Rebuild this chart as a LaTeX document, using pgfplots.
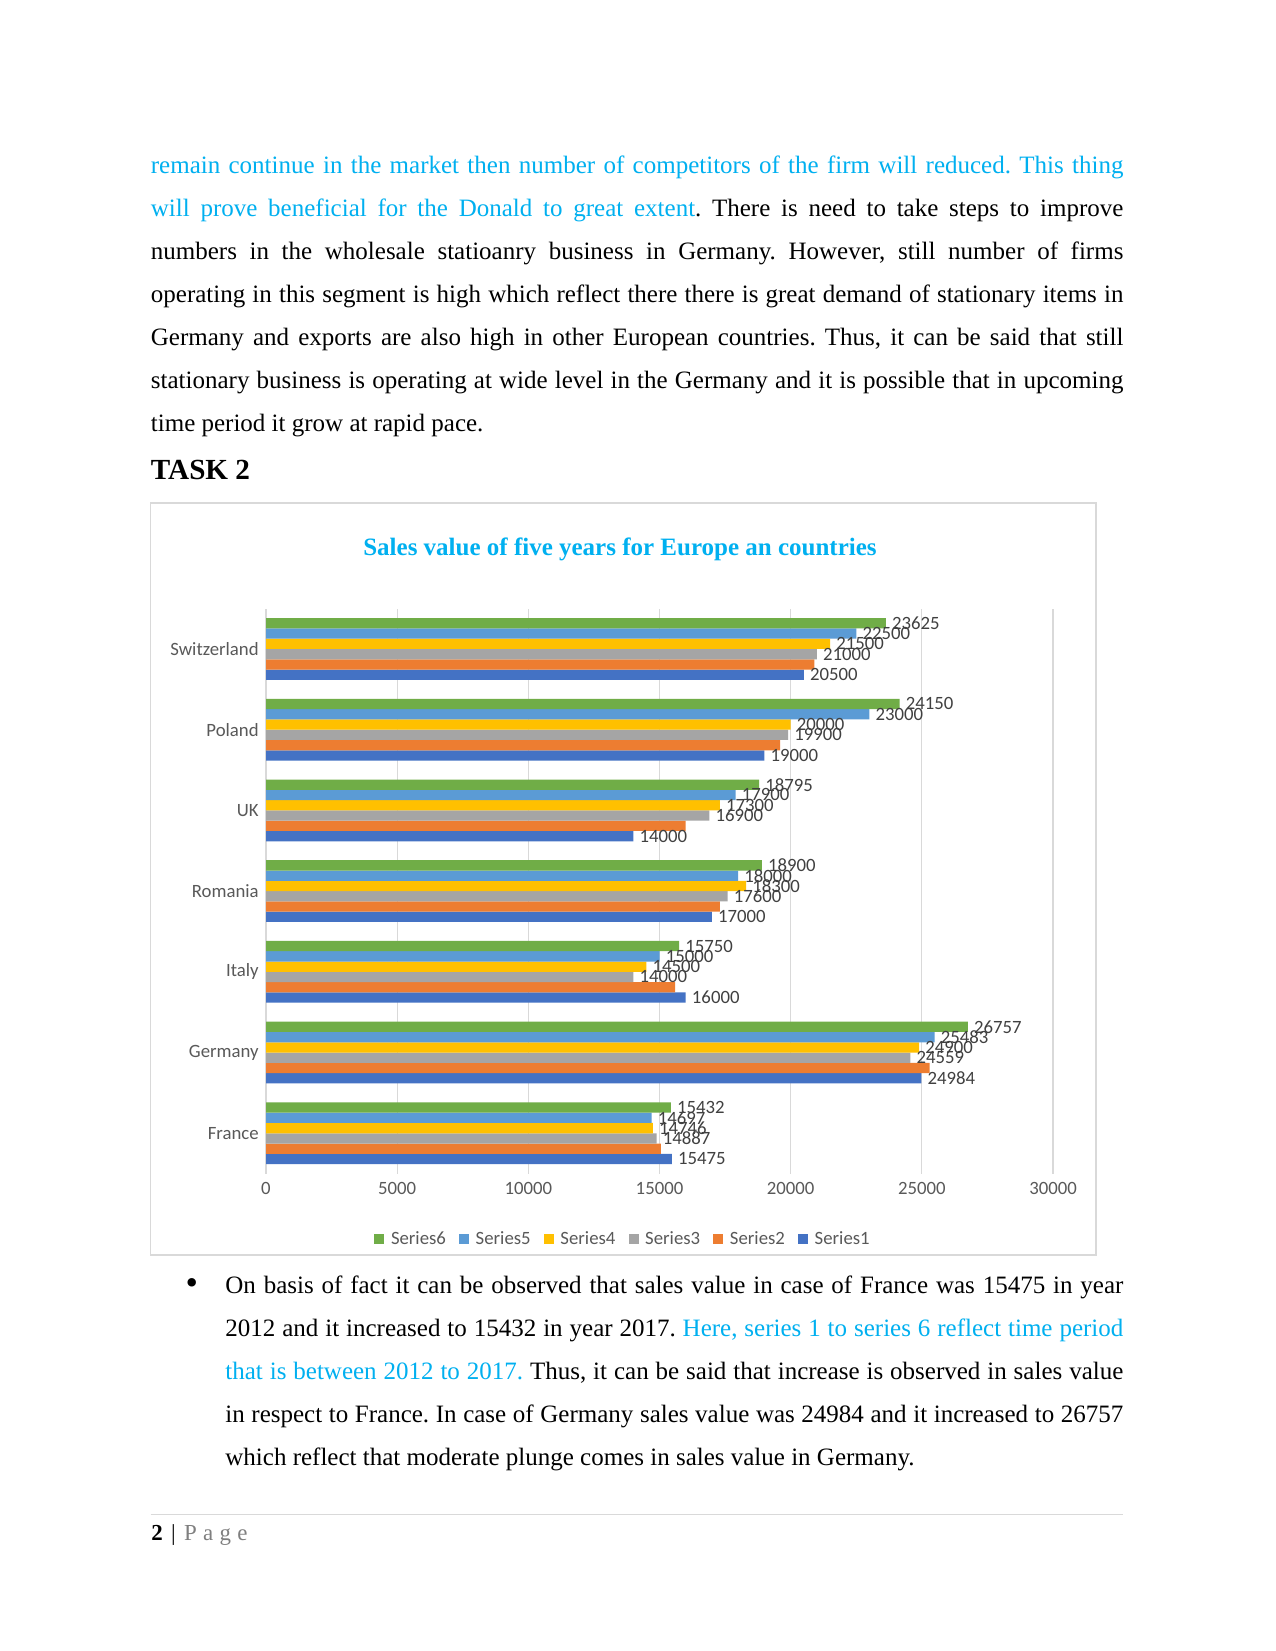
\documentclass[border=0pt]{standalone}
\usepackage{pgfplots}
\pgfplotsset{compat=1.18}
\usepackage{fontspec}
\setmainfont{Liberation Serif}
\newfontfamily\carlito{Carlito}
\definecolor{lb}{HTML}{00B0F0}
\definecolor{cS1}{HTML}{4472C4}
\definecolor{cS2}{HTML}{ED7D31}
\definecolor{cS3}{HTML}{A5A5A5}
\definecolor{cS4}{HTML}{FFC000}
\definecolor{cS5}{HTML}{5B9BD5}
\definecolor{cS6}{HTML}{70AD47}
\definecolor{tickgray}{HTML}{595959}
\definecolor{labgray}{HTML}{404040}
\definecolor{gridgray}{HTML}{D9D9D9}
\definecolor{pagegray}{HTML}{7F7F7F}
\frenchspacing
\newcommand{\bodyf}{\fontsize{12}{14}\selectfont\frenchspacing}
\newcommand{\jl}[1]{\makebox[466.8pt][s]{#1}}
\newcommand{\jb}[1]{\makebox[431pt][s]{#1}}
\begin{document}
\begin{tikzpicture}[x=0.48pt,y=-0.48pt]
\fill[white] (0,0) rectangle (1275,1651);
% body text
\begin{scope}[every node/.style={anchor=base west, inner sep=0pt, font=\bodyf}]
\node at (150.5,173.3) {\jl{\color{lb}remain continue in the market then number of competitors of the firm will reduced. This thing}};
\node at (150.5,216.4) {\jl{{\color{lb}will prove beneficial for the Donald to great extent}. There is need to take steps to improve}};
\node at (150.5,259.5) {\jl{numbers in the wholesale statioanry business in Germany. However, still number of firms}};
\node at (150.5,302.6) {\jl{operating in this segment is high which reflect there there is great demand of stationary items in}};
\node at (150.5,345.7) {\jl{Germany and exports are also high in other European countries. Thus, it can be said that still}};
\node at (150.5,388.8) {\jl{stationary business is operating at wide level in the Germany and it is possible that in upcoming}};
\node at (150.5,431.9) {time period it grow at rapid pace.};
\node[font=\fontsize{14}{16}\selectfont\bfseries] at (150.5,479.3) {TASK 2};
% bullet paragraph
\node[anchor=base, font=\fontsize{17}{17}\selectfont] at (191.7,1294.3) {\textbullet};
\node at (225,1293.3) {\jb{On basis of fact it can be observed that sales value in case of France was 15475 in year}};
\node at (225,1336.4) {\jb{2012 and it increased to 15432 in year 2017. {\color{lb}Here, series 1 to series 6 reflect time period}}};
\node at (225,1379.5) {\jb{{\color{lb}that is between 2012 to 2017.} Thus, it can be said that increase is observed in sales value}};
\node at (225,1422.6) {\jb{in respect to France. In case of Germany sales value was 24984 and it increased to 26757}};
\node at (225,1465.7) {which reflect that moderate plunge comes in sales value in Germany.};
% footer
\node[font=\fontsize{11}{13}\selectfont] at (151,1540) {\textbf{2}\hspace{4pt}|\hspace{4pt}{\color{pagegray}P\hspace{3pt}a\hspace{3pt}g\hspace{3pt}e}};
\end{scope}
\draw[gridgray, line width=0.5pt] (150.5,1514.3) -- (1123,1514.3);
% chart frame
\draw[gridgray, line width=0.6pt] (150.5,503) rectangle (1096,1255);
\node[anchor=base, inner sep=0pt, font=\fontsize{12}{14}\selectfont\bfseries, text=lb] at (620,555) {Sales value of five years for Europe an countries};
\coordinate (axpos) at (266,1173.6);
\begin{axis}[
  at={(axpos)}, anchor=south west,
  scale only axis, width=377.76pt, height=271.2pt,
  xbar, bar width=4.94pt,
  xmin=0, xmax=30000, ymin=-0.5, ymax=6.5,
  xtick={0,5000,...,30000},
  scaled x ticks=false,
  xticklabel={\pgfmathprintnumber[fixed,precision=0,1000 sep={}]{\tick}},
  ytick={0,1,2,3,4,5,6},
  yticklabels={France,Germany,Italy,Romania,UK,Poland,Switzerland},
  major tick length=0pt,
  axis line style={draw=none},
  xmajorgrids, grid style={gridgray, line width=0.6pt},
  /pgf/number format/1000 sep={},
  /pgf/number format/assume math mode=true,
  tick label style={font=\carlito\fontsize{9}{11}\selectfont, text=tickgray},
  xticklabel style={yshift=-0.5pt},
  nodes near coords,
  nodes near coords style={font=\carlito\fontsize{9}{11}\selectfont, text=labgray, anchor=west, inner sep=2.8pt},
  every axis plot/.append style={draw=none},
  legend image code/.code={\fill[#1] (0pt,-2.4pt) rectangle (4.8pt,2.4pt);},
  legend columns=-1,
  reverse legend,
  legend style={draw=none, fill=none, at={(0.455,-0.116)}, anchor=center,
    font=\carlito\fontsize{9}{11}\selectfont, text=tickgray,
    /tikz/every odd column/.append style={column sep=1.2pt},
    /tikz/every even column/.append style={column sep=4.3pt}},
]
\addplot[fill=cS1, bar shift=-12.35pt] coordinates {(15475,0) (24984,1) (16000,2) (17000,3) (14000,4) (19000,5) (20500,6)};
\addplot[fill=cS2, bar shift=-7.41pt, nodes near coords={}] coordinates {(15050,0) (25300,1) (15600,2) (17300,3) (16000,4) (19600,5) (20900,6)};
\addplot[fill=cS3, bar shift=-2.47pt] coordinates {(14887,0) (24559,1) (14000,2) (17600,3) (16900,4) (19900,5) (21000,6)};
\addplot[fill=cS4, bar shift=2.47pt] coordinates {(14746,0) (24900,1) (14500,2) (18300,3) (17300,4) (20000,5) (21500,6)};
\addplot[fill=cS5, bar shift=7.41pt] coordinates {(14697,0) (25483,1) (15000,2) (18000,3) (17900,4) (23000,5) (22500,6)};
\addplot[fill=cS6, bar shift=12.35pt] coordinates {(15432,0) (26757,1) (15750,2) (18900,3) (18795,4) (24150,5) (23625,6)};
\legend{Series1,Series2,Series3,Series4,Series5,Series6}
\end{axis}
\end{tikzpicture}
\end{document}
